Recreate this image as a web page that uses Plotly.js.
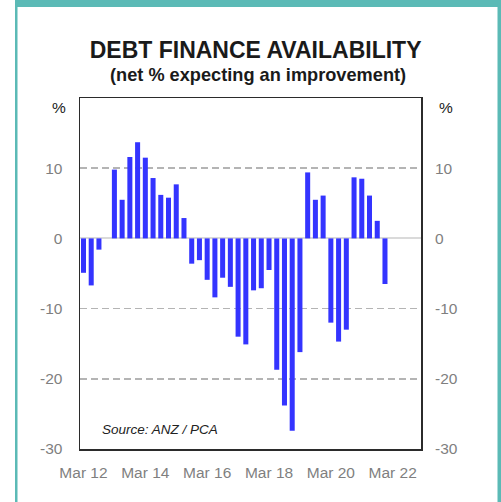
<!DOCTYPE html>
<html>
<head>
<meta charset="utf-8">
<script src="https://cdn.plot.ly/plotly-3.0.1.min.js"></script>
<style>
html, body { margin: 0; padding: 0; background: #ffffff; }
#chart { width: 501px; height: 502px; }
</style>
</head>
<body>
<div id="chart"></div>
<script>
// Quarterly survey periods (Mar 12 .. Dec 21)
const quarters = [
  'Mar 12','Jun 12','Sep 12','Dec 12',
  'Mar 13','Jun 13','Sep 13','Dec 13',
  'Mar 14','Jun 14','Sep 14','Dec 14',
  'Mar 15','Jun 15','Sep 15','Dec 15',
  'Mar 16','Jun 16','Sep 16','Dec 16',
  'Mar 17','Jun 17','Sep 17','Dec 17',
  'Mar 18','Jun 18','Sep 18','Dec 18',
  'Mar 19','Jun 19','Sep 19','Dec 19',
  'Mar 20','Jun 20','Sep 20','Dec 20',
  'Mar 21','Jun 21','Sep 21','Dec 21'
];
// Net % expecting an improvement in debt finance availability
const netImprovement = [
  -4.9, -6.7, -1.6, 0.0,
   9.8,  5.5, 11.6, 13.7,
  11.5,  8.6,  6.2,  5.8,
   7.7,  2.9, -3.6, -3.1,
  -5.9, -8.4, -5.6, -6.9,
 -14.0,-15.1, -7.4, -7.1,
  -4.5,-18.7,-23.8,-27.4,
 -16.2,  9.4,  5.5,  6.1,
 -12.0,-14.7,-13.0,  8.7,
   8.5,  6.1,  2.5, -6.5
];
// Extra empty periods shown on the axis after the data
const futureQuarters = ['Mar 22','Jun 22','Sep 22','Dec 22'];
const xTickLabels = ['Mar 12','Mar 14','Mar 16','Mar 18','Mar 20','Mar 22'];
const yTickValues = [-30, -20, -10, 0, 10];

const FONT = 'Liberation Sans, Arial, sans-serif';
const TEAL = 'rgb(91,186,182)';

// pixel helpers for paper coordinates (plot area 80..421 x, 98..449 y)
const W = 501, H = 502, L = 80, R = 421, T = 98, B = 449;
const px = x => (x - L) / (R - L);
const py = y => (B - y) / (B - T);

const traces = [
  {
    type: 'bar',
    x: quarters,
    y: netImprovement,
    marker: { color: 'rgb(52,52,255)', line: { width: 0 } },
    hoverinfo: 'x+y',
    showlegend: false
  },
  {
    type: 'scatter',
    mode: 'markers',
    x: [quarters[0]],
    y: [0],
    yaxis: 'y2',
    marker: { opacity: 0 },
    hoverinfo: 'skip',
    showlegend: false
  }
];

const yCommon = {
  range: [-30, 20],
  tickmode: 'array',
  tickvals: yTickValues,
  ticktext: yTickValues.map(String),
  ticks: '',
  ticklabelstandoff: 13,
  tickfont: { family: FONT, size: 15.5, color: '#7f7f7f' },
  fixedrange: true
};

const layout = {
  width: W,
  height: H,
  margin: { l: L, r: W - R, t: T, b: H - B, pad: 0 },
  paper_bgcolor: '#ffffff',
  plot_bgcolor: '#ffffff',
  bargap: 0.35,
  title: {
    text: '<b>DEBT FINANCE AVAILABILITY</b>',
    x: 258 / W,
    xanchor: 'center',
    xref: 'paper',
    y: 1 - 50 / H,
    yanchor: 'middle',
    yref: 'container',
    font: { family: FONT, size: 23, color: '#1a1a1a' }
  },
  xaxis: {
    type: 'category',
    categoryorder: 'array',
    categoryarray: quarters.concat(futureQuarters),
    range: [-0.45, 43.66],
    tickmode: 'array',
    tickvals: xTickLabels,
    ticktext: xTickLabels,
    ticks: '',
    ticklabelstandoff: 9,
    tickfont: { family: FONT, size: 15.5, color: '#7f7f7f' },
    showgrid: false,
    zeroline: false,
    showline: true,
    mirror: true,
    linecolor: '#2b2b2b',
    linewidth: 1.5,
    fixedrange: true
  },
  yaxis: Object.assign({}, yCommon, {
    side: 'left',
    showgrid: true,
    gridcolor: '#b4b4b4',
    gridwidth: 1.5,
    griddash: '7px,4px',
    zeroline: true,
    zerolinecolor: '#dadada',
    zerolinewidth: 2,
    showline: true,
    mirror: true,
    linecolor: '#2b2b2b',
    linewidth: 1.5
  }),
  yaxis2: Object.assign({}, yCommon, {
    overlaying: 'y',
    side: 'right',
    showgrid: false,
    zeroline: false,
    showline: false
  }),
  annotations: [
    {
      text: '<b>(net % expecting an improvement)</b>',
      xref: 'paper', yref: 'paper',
      x: px(258), y: py(75),
      xanchor: 'center', yanchor: 'middle',
      showarrow: false,
      font: { family: FONT, size: 18.2, color: '#1a1a1a' }
    },
    {
      text: '%',
      xref: 'paper', yref: 'paper',
      x: px(59), y: py(108),
      xanchor: 'center', yanchor: 'middle',
      showarrow: false,
      font: { family: FONT, size: 15.5, color: '#222222' }
    },
    {
      text: '%',
      xref: 'paper', yref: 'paper',
      x: px(446), y: py(108),
      xanchor: 'center', yanchor: 'middle',
      showarrow: false,
      font: { family: FONT, size: 15.5, color: '#222222' }
    },
    {
      text: '<i>Source: ANZ / PCA</i>',
      xref: 'paper', yref: 'paper',
      x: px(100), y: py(429),
      xanchor: 'left', yanchor: 'middle',
      showarrow: false,
      font: { family: FONT, size: 13.5, color: '#222222' }
    }
  ],
  shapes: [
    { type: 'rect', xref: 'paper', yref: 'paper', layer: 'above',
      x0: px(15), x1: px(W + 2), y0: py(-2), y1: py(7),
      fillcolor: TEAL, line: { width: 0 } },
    { type: 'rect', xref: 'paper', yref: 'paper', layer: 'above',
      x0: px(15), x1: px(17.5), y0: py(0), y1: py(H + 2),
      fillcolor: TEAL, line: { width: 0 } },
    { type: 'rect', xref: 'paper', yref: 'paper', layer: 'above',
      x0: px(497.5), x1: px(W + 2), y0: py(0), y1: py(H + 2),
      fillcolor: TEAL, line: { width: 0 } }
  ]
};

Plotly.newPlot('chart', traces, layout, { staticPlot: true, displayModeBar: false });
</script>
</body>
</html>
